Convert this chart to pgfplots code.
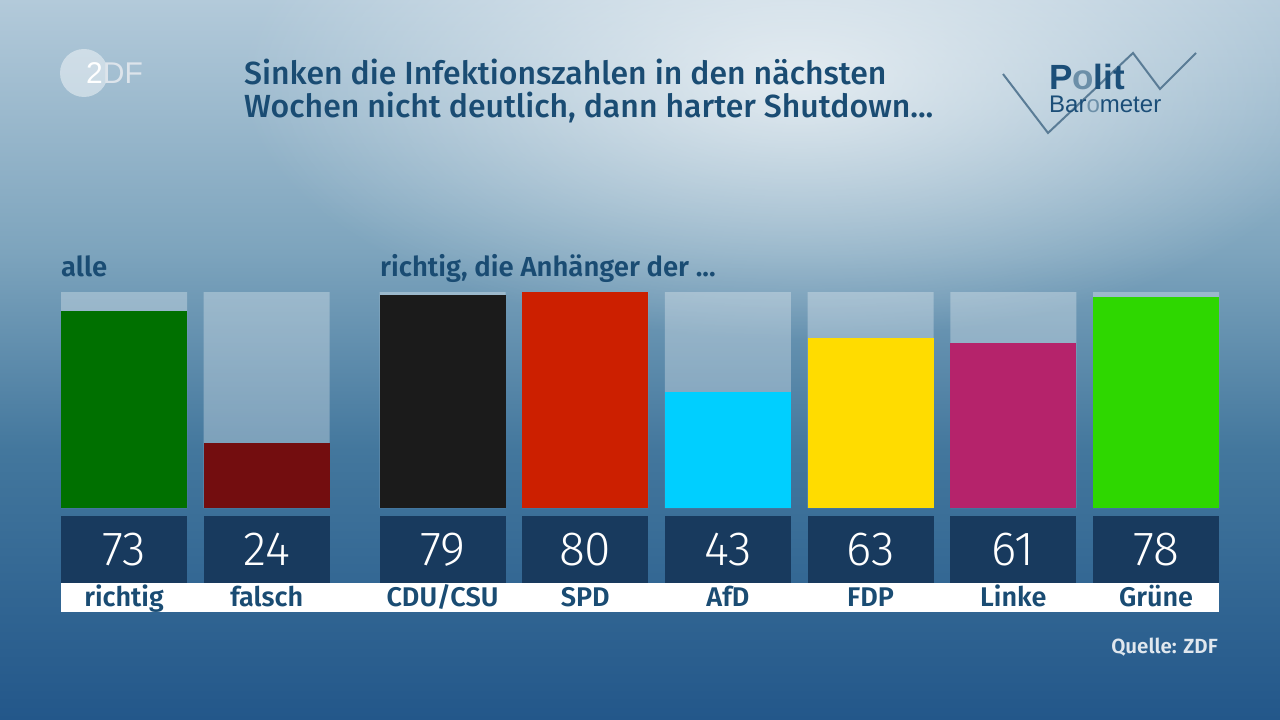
\documentclass[border=0pt]{standalone}
\usepackage{fontspec}
\setmainfont{Fira Sans}
\newfontfamily\fmed{Fira Sans Medium}
\newfontfamily\fsemi{Fira Sans SemiBold}
\newfontfamily\flight{Fira Sans Light}
\newfontfamily\arial{Liberation Sans}
\usepackage{pgfplots}
\pgfplotsset{compat=1.18}
\usetikzlibrary{fadings}
\definecolor{bgA}{HTML}{23578A}
\definecolor{bgB}{HTML}{43779D}
\definecolor{bgC}{HTML}{7DA4BD}
\definecolor{bgD}{HTML}{B3CADA}
\definecolor{navy}{HTML}{183A5E}
\definecolor{lab}{HTML}{1A4C73}
\definecolor{quelle}{HTML}{E0E7EE}
\definecolor{pbdark}{HTML}{1B4E78}
\definecolor{pblight}{HTML}{6C8FA8}
\definecolor{pbline}{HTML}{5A7C96}
\definecolor{cRichtig}{HTML}{007000}
\definecolor{cFalsch}{HTML}{730D0F}
\definecolor{cCDU}{HTML}{1B1B1B}
\definecolor{cSPD}{HTML}{CC1F00}
\definecolor{cAfD}{HTML}{00CFFF}
\definecolor{cFDP}{HTML}{FFDC00}
\definecolor{cLinke}{HTML}{B5236B}
\definecolor{cGruene}{HTML}{2ED700}
\pgfdeclareverticalshading{bgshade}{100bp}{color(0bp)=(bgA); color(25bp)=(bgA); color(43.75bp)=(bgB); color(57.5bp)=(bgC); color(75bp)=(bgD); color(100bp)=(bgD)}
\tikzfading[name=glow, inner color=transparent!0, outer color=transparent!100]
\begin{document}
\begin{tikzpicture}[x=1pt,y=1pt]
\useasboundingbox (0,0) rectangle (1280,720);
\begin{scope}
\clip (0,0) rectangle (1280,720);
\shade[shading=bgshade] (0,0) rectangle (1280,720);
\fill[white, opacity=0.7, path fading=glow] (800,640) ellipse (560 and 260);
\end{scope}
% ZDF logo
\fill[white, opacity=0.45] (84,647) circle (24);
\node[anchor=west, inner sep=0pt, font=\arial\fontsize{30}{30}\selectfont] at (86,647) {\textcolor{white}{2}\textcolor{white!85!pbdark}{DF}};
% Title
\node[anchor=base west, inner sep=0pt, text=lab, font=\fmed\fontsize{32}{32}\selectfont] at (244,635) {Sinken die Infektionszahlen in den nächsten};
\node[anchor=base west, inner sep=0pt, text=lab, font=\fmed\fontsize{32}{32}\selectfont] at (244,602) {Wochen nicht deutlich, dann harter Shutdown...};
% Politbarometer logo
\draw[pbline, line width=2pt] (1003,646) -- (1048,587) -- (1133,667) -- (1160,631) -- (1196,667);
\node[anchor=base west, inner sep=0pt, font=\arial\bfseries\fontsize{35}{35}\selectfont] at (1049,630) {\textcolor{pbdark}{P}\textcolor{pblight}{o}\textcolor{pbdark}{lit}};
\node[anchor=base west, inner sep=0pt, font=\arial\fontsize{24}{24}\selectfont] at (1049,607) {\textcolor{pbdark}{Bar}\textcolor{pblight}{o}\textcolor{pbdark}{meter}};
% section labels
\node[anchor=base west, inner sep=0pt, text=lab, font=\fsemi\fontsize{27.5}{27.5}\selectfont] at (61,443) {alle};
\node[anchor=base west, inner sep=0pt, text=lab, font=\fsemi\fontsize{27.5}{27.5}\selectfont] at (380,443) {richtig, die Anhänger der ...};
% source
\node[anchor=base east, inner sep=0pt, text=quelle, font=\fsemi\fontsize{20.5}{20.5}\selectfont] at (1218,66) {Quelle: ZDF};
\begin{axis}[at={(61pt,108pt)}, anchor=south west, scale only axis,
  width=1158pt, height=320pt,
  xmin=-0.4415, xmax=7.6735, ymin=-38.5, ymax=80,
  hide axis, clip=false]
\fill[white] (axis cs:-0.4415,-27.8) rectangle (axis cs:7.6735,-38.5);
\pgfplotsinvokeforeach{0,1,2.232,3.232,4.232,5.232,6.232,7.232}{
  \fill[navy] (axis cs:#1-0.4415,-2.96) rectangle (axis cs:#1+0.4415,-27.6);
}
\addplot[ybar, bar width=0.883, bar shift=0pt, fill=white, fill opacity=0.3, draw=none]
  coordinates {(0,80) (1,80) (2.232,80) (3.232,80) (4.232,80) (5.232,80) (6.232,80) (7.232,80)};
\addplot[ybar, bar width=0.883, bar shift=0pt, fill=cRichtig, draw=none] coordinates {(0,73)};
\addplot[ybar, bar width=0.883, bar shift=0pt, fill=cFalsch, draw=none] coordinates {(1,24)};
\addplot[ybar, bar width=0.883, bar shift=0pt, fill=cCDU, draw=none] coordinates {(2.232,79)};
\addplot[ybar, bar width=0.883, bar shift=0pt, fill=cSPD, draw=none] coordinates {(3.232,80)};
\addplot[ybar, bar width=0.883, bar shift=0pt, fill=cAfD, draw=none] coordinates {(4.232,43)};
\addplot[ybar, bar width=0.883, bar shift=0pt, fill=cFDP, draw=none] coordinates {(5.232,63)};
\addplot[ybar, bar width=0.883, bar shift=0pt, fill=cLinke, draw=none] coordinates {(6.232,61)};
\addplot[ybar, bar width=0.883, bar shift=0pt, fill=cGruene, draw=none] coordinates {(7.232,78)};
% numbers
\addplot[draw=none, mark=none, nodes near coords, point meta=explicit symbolic,
  every node near coord/.style={anchor=base, inner sep=0pt, text=white, font=\flight\fontsize{48}{48}\selectfont}]
  coordinates {(0,-21.1) [73] (1,-21.1) [24] (2.232,-21.1) [79] (3.232,-21.1) [80] (4.232,-21.1) [43] (5.232,-21.1) [63] (6.232,-21.1) [61] (7.232,-21.1) [78]};
% category names
\addplot[draw=none, mark=none, nodes near coords, point meta=explicit symbolic,
  every node near coord/.style={anchor=base, inner sep=0pt, text=lab, font=\fsemi\fontsize{27}{27}\selectfont}]
  coordinates {(0,-36.3) [richtig] (1,-36.3) [falsch] (2.232,-36.3) [CDU/CSU] (3.232,-36.3) [SPD] (4.232,-36.3) [AfD] (5.232,-36.3) [FDP] (6.232,-36.3) [Linke] (7.232,-36.3) [Grüne]};
\end{axis}
\end{tikzpicture}
\end{document}
